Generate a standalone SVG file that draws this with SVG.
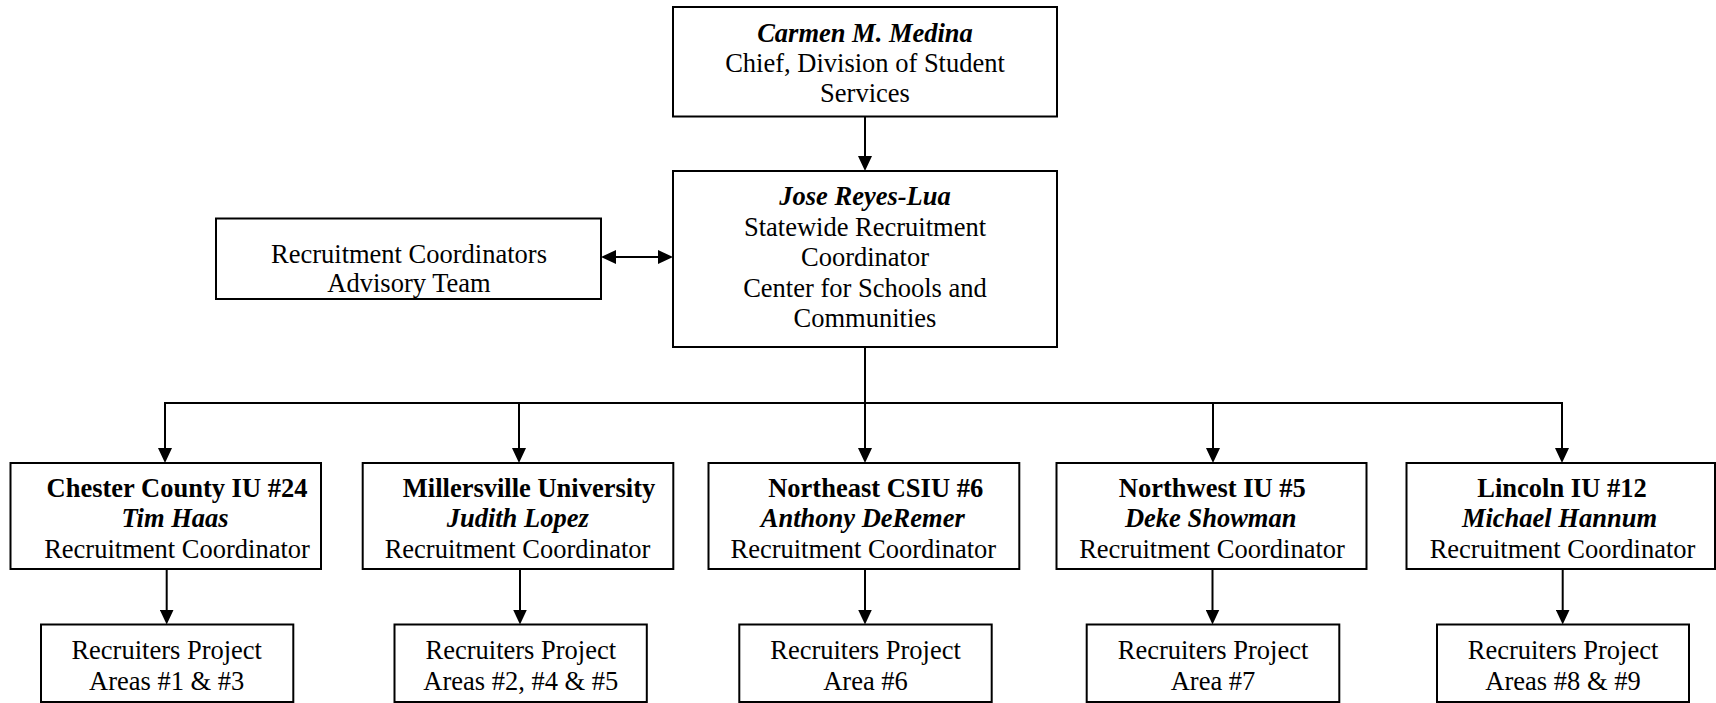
<svg xmlns="http://www.w3.org/2000/svg" width="1716" height="703" viewBox="0 0 1716 703">
<style>
.box{fill:#fff;stroke:#000;stroke-width:2}
.ln{fill:none;stroke:#000;stroke-width:2}
text{font-family:"Liberation Serif","Times New Roman",serif;font-size:26.5px;fill:#000;text-anchor:middle}
.b{font-weight:bold}
.bi{font-weight:bold;font-style:italic}
</style>
<defs>
<marker id="arr" markerUnits="userSpaceOnUse" markerWidth="15" markerHeight="14" viewBox="0 0 15 14" refX="7" refY="7" orient="auto-start-reverse">
<path d="M0,0 L15,7 L0,14 z" fill="#000"/>
</marker>
</defs>
<rect width="1716" height="703" fill="#fff"/>
<g id="connectors">
<line class="ln" x1="865" y1="116.5" x2="865" y2="163" marker-end="url(#arr)"/>
<line class="ln" x1="609" y1="257" x2="665" y2="257" marker-start="url(#arr)" marker-end="url(#arr)"/>
<line class="ln" x1="865" y1="347" x2="865" y2="455" marker-end="url(#arr)"/>
<line class="ln" x1="164" y1="403" x2="1563" y2="403"/>
<line class="ln" x1="165" y1="403" x2="165" y2="455" marker-end="url(#arr)"/>
<line class="ln" x1="519" y1="403" x2="519" y2="455" marker-end="url(#arr)"/>
<line class="ln" x1="1213" y1="403" x2="1213" y2="455" marker-end="url(#arr)"/>
<line class="ln" x1="1562" y1="403" x2="1562" y2="455" marker-end="url(#arr)"/>
<line class="ln" x1="166.7" y1="569" x2="166.7" y2="616.5" marker-end="url(#arr)"/>
<line class="ln" x1="520" y1="569" x2="520" y2="616.5" marker-end="url(#arr)"/>
<line class="ln" x1="865" y1="569" x2="865" y2="616.5" marker-end="url(#arr)"/>
<line class="ln" x1="1212.5" y1="569" x2="1212.5" y2="616.5" marker-end="url(#arr)"/>
<line class="ln" x1="1562.7" y1="569" x2="1562.7" y2="616.5" marker-end="url(#arr)"/>
</g>
<g id="chief">
<rect class="box" x="673" y="7" width="384" height="109.5"/>
<text x="865" y="42" class="bi">Carmen M. Medina</text>
<text x="865" y="72">Chief, Division of Student</text>
<text x="865" y="102">Services</text>
</g>
<g id="statewide">
<rect class="box" x="673" y="171" width="384" height="176"/>
<text x="865" y="205" class="bi">Jose Reyes-Lua</text>
<text x="865" y="235.5">Statewide Recruitment</text>
<text x="865" y="266">Coordinator</text>
<text x="865" y="296.5">Center for Schools and</text>
<text x="865" y="327">Communities</text>
</g>
<g id="advisory">
<rect class="box" x="216" y="218.5" width="385" height="80.5"/>
<text x="409" y="263">Recruitment Coordinators</text>
<text x="409" y="292">Advisory Team</text>
</g>
<g id="chester">
<rect class="box" x="10.5" y="463" width="310.5" height="106"/>
<text x="177" y="497" class="b">Chester County IU #24</text>
<text x="175" y="527.3" class="bi">Tim Haas</text>
<text x="177" y="558">Recruitment Coordinator</text>
</g>
<g id="millersville">
<rect class="box" x="362.7" y="463" width="310.6" height="106"/>
<text x="529" y="497" class="b">Millersville University</text>
<text x="517.7" y="527.3" class="bi">Judith Lopez</text>
<text x="517.5" y="558">Recruitment Coordinator</text>
</g>
<g id="northeast">
<rect class="box" x="708.5" y="463" width="310.8" height="106"/>
<text x="875.7" y="497" class="b">Northeast CSIU #6</text>
<text x="862.8" y="527.3" class="bi">Anthony DeRemer</text>
<text x="863.3" y="558">Recruitment Coordinator</text>
</g>
<g id="northwest">
<rect class="box" x="1056.5" y="463" width="310" height="106"/>
<text x="1212.3" y="497" class="b">Northwest IU #5</text>
<text x="1210.7" y="527.3" class="bi">Deke Showman</text>
<text x="1212" y="558">Recruitment Coordinator</text>
</g>
<g id="lincoln">
<rect class="box" x="1406.5" y="463" width="308.5" height="106"/>
<text x="1562" y="497" class="b">Lincoln IU #12</text>
<text x="1559.5" y="527.3" class="bi">Michael Hannum</text>
<text x="1562.5" y="558">Recruitment Coordinator</text>
</g>
<g id="areas13">
<rect class="box" x="41" y="624.5" width="252.3" height="77.5"/>
<text x="166.7" y="659.3">Recruiters Project</text>
<text x="166.7" y="690">Areas #1 &amp; #3</text>
</g>
<g id="areas245">
<rect class="box" x="394.5" y="624.5" width="252.3" height="77.5"/>
<text x="520.8" y="659.3">Recruiters Project</text>
<text x="520.8" y="690">Areas #2, #4 &amp; #5</text>
</g>
<g id="area6">
<rect class="box" x="739.3" y="624.5" width="252.4" height="77.5"/>
<text x="865.5" y="659.3">Recruiters Project</text>
<text x="865.5" y="690">Area #6</text>
</g>
<g id="area7">
<rect class="box" x="1086.7" y="624.5" width="252.6" height="77.5"/>
<text x="1213" y="659.3">Recruiters Project</text>
<text x="1213" y="690">Area #7</text>
</g>
<g id="areas89">
<rect class="box" x="1437" y="624.5" width="252" height="77.5"/>
<text x="1563" y="659.3">Recruiters Project</text>
<text x="1563" y="690">Areas #8 &amp; #9</text>
</g>
</svg>
